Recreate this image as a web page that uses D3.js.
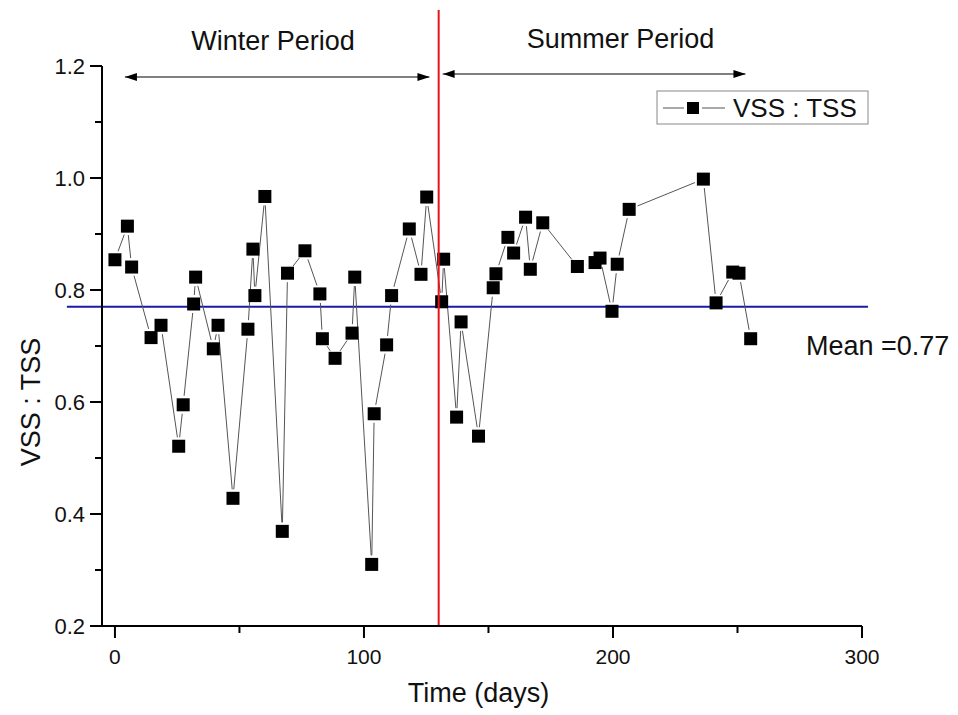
<!DOCTYPE html>
<html>
<head>
<meta charset="utf-8">
<script src="https://cdn.jsdelivr.net/npm/d3@7"></script>
<style>
  body { margin: 0; background: #fff; }
  svg { font-family: "Liberation Sans", Arial, sans-serif; }
</style>
</head>
<body>
<div id="chart"></div>
<script>
// sampling day and VSS:TSS ratio
const days = [0, 5, 6.7, 14.5, 18.5, 25.6, 27.4, 31.6, 32.4, 39.5, 41.4, 47.4, 53.4, 55.4, 56.2,
  60.2, 67.2, 69.3, 76.3, 82.3, 83.3, 88.4, 95.2, 96.3, 103.1, 104.1, 109.1, 111.1, 118.2, 122.9,
  125.2, 131.2, 132, 137.2, 139, 146, 151.9, 153, 157.8, 160.1, 164.9, 166.8, 171.8, 185.7, 192.8,
  194.8, 199.6, 201.7, 206.5, 236.3, 241.4, 248.1, 250.6, 255.3];
const ratio = [0.854, 0.914, 0.841, 0.715, 0.737, 0.521, 0.595, 0.775, 0.823, 0.695, 0.737, 0.428, 0.730, 0.873, 0.790,
  0.967, 0.369, 0.830, 0.870, 0.793, 0.713, 0.678, 0.723, 0.823, 0.310, 0.579, 0.702, 0.790, 0.909, 0.828,
  0.966, 0.779, 0.855, 0.573, 0.743, 0.539, 0.804, 0.829, 0.894, 0.866, 0.930, 0.837, 0.920, 0.842, 0.849,
  0.857, 0.762, 0.846, 0.944, 0.998, 0.777, 0.832, 0.830, 0.713];

const xTicks = [0, 100, 200, 300];
const yTicks = [0.2, 0.4, 0.6, 0.8, 1.0, 1.2];
const meanValue = 0.77;
const splitDay = 130;
const periods = [
  { label: 'Winter Period', from: 4, to: 126.3, textDay: 63.5 },
  { label: 'Summer Period', from: 131.6, to: 253.2, textDay: 203 }
];

const width = 958, height = 715;
const margin = { top: 66, right: 96, bottom: 89, left: 102 };

const svg = d3.select('#chart').append('svg')
  .attr('width', width)
  .attr('height', height);

const x = d3.scaleLinear()
  .domain([-5.2, 300])
  .range([margin.left, width - margin.right]);

const y = d3.scaleLinear()
  .domain([0.2, 1.2])
  .range([height - margin.bottom, margin.top]);

const data = days.map((d, i) => ({ x: d, y: ratio[i] }));

// arrow heads for the period markers
svg.append('defs').append('marker')
  .attr('id', 'arrow')
  .attr('viewBox', '0 0 12 8')
  .attr('refX', 12).attr('refY', 4)
  .attr('markerWidth', 12).attr('markerHeight', 8)
  .attr('markerUnits', 'userSpaceOnUse')
  .attr('orient', 'auto-start-reverse')
  .append('path')
  .attr('d', 'M0,0 L12,4 L0,8 Z')
  .attr('fill', '#000');

// mean line (runs a bit past both axes, as in the original)
svg.append('line')
  .attr('x1', x(-19.3)).attr('x2', x(302.4))
  .attr('y1', y(meanValue)).attr('y2', y(meanValue))
  .attr('stroke', '#1a1aa6')
  .attr('stroke-width', 2);

// connecting lines with a small gap around each marker
const gap = 9;
for (let i = 0; i < data.length - 1; i++) {
  const x1 = x(data[i].x), y1 = y(data[i].y);
  const x2 = x(data[i + 1].x), y2 = y(data[i + 1].y);
  const len = Math.hypot(x2 - x1, y2 - y1);
  if (len <= gap * 2) continue;
  const ux = (x2 - x1) / len, uy = (y2 - y1) / len;
  svg.append('line')
    .attr('x1', x1 + ux * gap).attr('y1', y1 + uy * gap)
    .attr('x2', x2 - ux * gap).attr('y2', y2 - uy * gap)
    .attr('stroke', '#555')
    .attr('stroke-width', 1);
}

// markers
const sz = 13;
svg.selectAll('.dot')
  .data(data)
  .enter().append('rect')
  .attr('class', 'dot')
  .attr('x', d => x(d.x) - sz / 2)
  .attr('y', d => y(d.y) - sz / 2)
  .attr('width', sz).attr('height', sz)
  .attr('fill', '#000');

// split line between the two periods
svg.append('line')
  .attr('x1', x(splitDay)).attr('x2', x(splitDay))
  .attr('y1', 10).attr('y2', y(0.2))
  .attr('stroke', '#e8141c')
  .attr('stroke-width', 2);

// period arrows and labels
const arrowY = [77, 74];
periods.forEach((p, i) => {
  svg.append('line')
    .attr('x1', x(p.from)).attr('x2', x(p.to))
    .attr('y1', arrowY[i]).attr('y2', arrowY[i])
    .attr('stroke', '#000')
    .attr('stroke-width', 1)
    .attr('marker-start', 'url(#arrow)')
    .attr('marker-end', 'url(#arrow)');
  svg.append('text')
    .attr('x', x(p.textDay))
    .attr('y', i === 0 ? 50 : 48)
    .attr('text-anchor', 'middle')
    .attr('font-size', 27)
    .attr('fill', '#111')
    .text(p.label);
});

// x axis
const xAxis = svg.append('g')
  .attr('transform', 'translate(0,' + y(0.2) + ')');
xAxis.append('line')
  .attr('x1', x(-5.2)).attr('x2', x(300))
  .attr('stroke', '#000').attr('stroke-width', 2);
xAxis.selectAll('.minor')
  .data([50, 150, 250])
  .enter().append('line')
  .attr('x1', d => x(d)).attr('x2', d => x(d))
  .attr('y1', 0).attr('y2', 7)
  .attr('stroke', '#000').attr('stroke-width', 2);
xAxis.selectAll('.major')
  .data(xTicks)
  .enter().append('line')
  .attr('x1', d => x(d)).attr('x2', d => x(d))
  .attr('y1', 0).attr('y2', 12)
  .attr('stroke', '#000').attr('stroke-width', 2);
xAxis.selectAll('.lbl')
  .data(xTicks)
  .enter().append('text')
  .attr('x', d => x(d))
  .attr('y', 38)
  .attr('text-anchor', 'middle')
  .attr('font-size', 21)
  .attr('fill', '#111')
  .text(d => d);

// y axis
const yAxis = svg.append('g')
  .attr('transform', 'translate(' + x(-5.2) + ',0)');
yAxis.append('line')
  .attr('y1', y(0.2)).attr('y2', y(1.2))
  .attr('stroke', '#000').attr('stroke-width', 2);
yAxis.selectAll('.minor')
  .data([0.3, 0.5, 0.7, 0.9, 1.1])
  .enter().append('line')
  .attr('y1', d => y(d)).attr('y2', d => y(d))
  .attr('x1', 0).attr('x2', -7)
  .attr('stroke', '#000').attr('stroke-width', 2);
yAxis.selectAll('.major')
  .data(yTicks)
  .enter().append('line')
  .attr('y1', d => y(d)).attr('y2', d => y(d))
  .attr('x1', 0).attr('x2', -12)
  .attr('stroke', '#000').attr('stroke-width', 2);
yAxis.selectAll('.lbl')
  .data(yTicks)
  .enter().append('text')
  .attr('x', -17)
  .attr('y', d => y(d))
  .attr('dy', '0.35em')
  .attr('text-anchor', 'end')
  .attr('font-size', 22)
  .attr('fill', '#111')
  .text(d => d.toFixed(1));

// axis titles
svg.append('text')
  .attr('x', x(146))
  .attr('y', 702)
  .attr('text-anchor', 'middle')
  .attr('font-size', 27)
  .attr('fill', '#111')
  .text('Time (days)');

svg.append('text')
  .attr('transform', 'translate(40,' + y(0.6) + ') rotate(-90)')
  .attr('text-anchor', 'middle')
  .attr('font-size', 27)
  .attr('fill', '#111')
  .text('VSS : TSS');

// mean label
svg.append('text')
  .attr('x', 806)
  .attr('y', 355)
  .attr('font-size', 27)
  .attr('fill', '#111')
  .text('Mean =' + meanValue);

// legend
const lg = svg.append('g').attr('transform', 'translate(657,91)');
lg.append('rect')
  .attr('width', 211).attr('height', 33)
  .attr('fill', '#fff')
  .attr('stroke', '#888')
  .attr('stroke-width', 1);
[[6, 27], [45, 68]].forEach(s => {
  lg.append('line')
    .attr('x1', s[0]).attr('x2', s[1])
    .attr('y1', 17).attr('y2', 17)
    .attr('stroke', '#555').attr('stroke-width', 1);
});
lg.append('rect')
  .attr('x', 36 - 6).attr('y', 17 - 6)
  .attr('width', 12).attr('height', 12)
  .attr('fill', '#000');
lg.append('text')
  .attr('x', 76)
  .attr('y', 26)
  .attr('font-size', 26)
  .attr('fill', '#111')
  .text('VSS : TSS');
</script>
</body>
</html>
